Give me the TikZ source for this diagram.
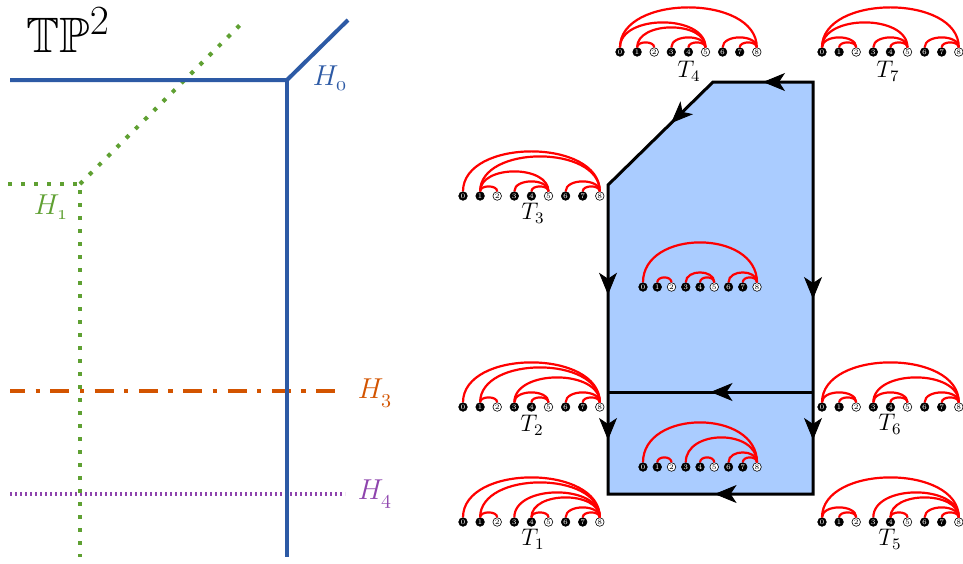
\documentclass[tikz,border=0pt]{standalone}
\usepackage{amssymb}
\usetikzlibrary{arrows.meta,decorations.markings}

\definecolor{hblue}{RGB}{45,90,165}
\definecolor{hgreen}{RGB}{95,160,50}
\definecolor{horange}{RGB}{211,84,0}
\definecolor{hpurple}{RGB}{142,68,173}
\definecolor{facefill}{RGB}{170,204,255}

\tikzset{
    bv/.style={circle,fill=black,draw=black,line width=0.3pt,inner sep=0pt,
        minimum size=4.3pt,text=white,font=\fontsize{3.5}{3.5}\selectfont},
    wv/.style={bv,fill=white,text=black},
    treearc/.style={red,line width=1.1pt},
    tlabel/.style={font=\large},
    hlabel/.style={font=\Large},
    flowmark/.style={postaction={decorate,decoration={markings,
        mark=at position #1 with {\arrow{Stealth[length=11pt,width=9pt,inset=3pt]}}}}},
    flowmark/.default=0.5,
}

% #1 prefix, #2 x of vertex 0, #3 y, #4 spacing, #5 arcs, #6 looseness
\newcommand{\arcdiagram}[6]{%
    \foreach \i/\s in {0/bv,1/bv,2/wv,3/bv,4/bv,5/wv,6/bv,7/bv,8/wv}
        \node[\s] (#1\i) at (#2+\i*#4,#3) {\i};
    \foreach \a/\b in {#5}
        \draw[treearc] (#1\a) to[out=90,in=90,looseness=#6] (#1\b);
}

\begin{document}
\begin{tikzpicture}[x=0.5pt,y=-0.5pt]
    \useasboundingbox (0,0) rectangle (963,563);

    % tropical lines
    \draw[horange,line width=2pt,dash pattern=on 9.5pt off 5.25pt on 2.15pt off 5.25pt,dash phase=2pt] (10,391) -- (345,391);
    \draw[hpurple,line width=2pt,dash pattern=on 1.2pt off 1.3pt] (10,494) -- (345,494);
    \coordinate (g0) at (80,184);
    \draw[hgreen,line width=2pt,dash pattern=on 2pt off 4.5pt] (8,184) -- (g0) -- (80,557);
    \draw[hgreen,line width=2pt,dash pattern=on 2pt off 4.5pt] (g0) -- (240,25);
    \coordinate (b0) at (287,80);
    \draw[hblue,line width=2pt] (10,80) -- (b0) -- (348,20);
    \draw[hblue,line width=2pt] (b0) -- (287,557);

    \node[font=\Huge] (tp) at (68,30) {$\mathbb{TP}^2$};
    \node[hlabel,text=hblue] (h0) at (330,78) {$H_{\mathnormal{0}}$};
    \node[hlabel,text=hgreen] (h1) at (51,207) {$H_{\mathnormal{1}}$};
    \node[hlabel,text=horange] (h3) at (375,393) {$H_{\mathnormal{3}}$};
    \node[hlabel,text=hpurple] (h4) at (375,494) {$H_{\mathnormal{4}}$};

    % the face
    \coordinate (c1) at (608,185);
    \coordinate (c2) at (713,82);
    \coordinate (c3) at (813,82);
    \coordinate (c4) at (813,392);
    \coordinate (c5) at (813,494);
    \coordinate (c6) at (608,494);
    \coordinate (c7) at (608,392);
    \draw[line width=1.5pt,fill=facefill] (c1) -- (c2) -- (c3) -- (c5) -- (c6) -- cycle;
    \draw[line width=1.5pt] (c4) -- (c7);
    \path[flowmark=0.5] (c3) -- (c2);
    \path[flowmark=0.4] (c2) -- (c1);
    \path[flowmark=0.53] (c1) -- (c7);
    \path[flowmark=0.7] (c3) -- (c4);
    \path[flowmark=0.5] (c4) -- (c7);
    \path[flowmark=0.47] (c7) -- (c6);
    \path[flowmark=0.47] (c4) -- (c5);
    \path[flowmark=0.48] (c5) -- (c6);

    % trees
    \arcdiagram{t4v}{620}{52}{17.1}{0/8,0/5,1/5,1/2,3/5,4/5,6/8,7/8}{1}
    \arcdiagram{t7v}{822}{52}{17.1}{0/8,0/5,0/2,1/2,3/5,4/5,6/8,7/8}{1}
    \arcdiagram{t3v}{463}{196}{17.1}{0/8,1/8,1/5,1/2,3/5,4/5,6/8,7/8}{1}
    \arcdiagram{upv}{643}{287}{14.25}{0/8,1/2,3/5,4/5,6/8,7/8}{1.2}
    \arcdiagram{t2v}{463}{407}{17.1}{0/8,1/8,3/8,1/2,3/5,4/5,6/8,7/8}{1}
    \arcdiagram{t6v}{822}{407}{17.1}{0/8,0/2,1/2,3/8,3/5,4/5,6/8,7/8}{1}
    \arcdiagram{lov}{643}{467}{14.25}{0/8,3/8,1/2,4/5,6/8,7/8}{1.2}
    \arcdiagram{t1v}{463}{522}{17.1}{0/8,1/8,1/2,3/8,4/8,4/5,6/8,7/8}{1}
    \arcdiagram{t5v}{822}{522}{17.1}{0/8,0/2,1/2,3/8,4/8,4/5,6/8,7/8}{1}

    \node[tlabel] (t4) at (689,71) {$T_4$};
    \node[tlabel] (t7) at (888,71) {$T_7$};
    \node[tlabel] (t3) at (533,213) {$T_3$};
    \node[tlabel] (t2) at (532,425) {$T_2$};
    \node[tlabel] (t6) at (890,424) {$T_6$};
    \node[tlabel] (t1) at (533,539) {$T_1$};
    \node[tlabel] (t5) at (890,539) {$T_5$};
\end{tikzpicture}
\end{document}
